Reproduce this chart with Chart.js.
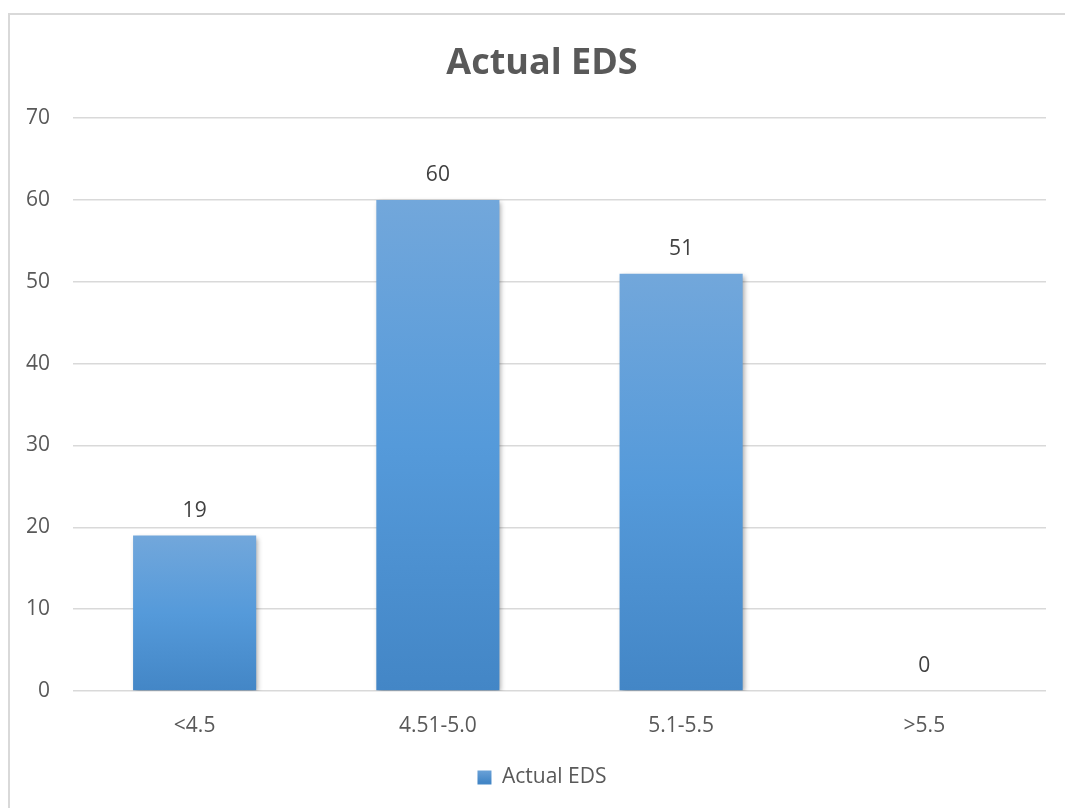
<!DOCTYPE html>
<html>
<head>
<meta charset="utf-8">
<title>Actual EDS</title>
<script src="https://cdn.jsdelivr.net/npm/chart.js@4/dist/chart.umd.min.js"></script>
<style>
  html, body { margin: 0; padding: 0; background: #ffffff; }
  body { width: 1065px; height: 808px; position: relative; overflow: hidden; }
  #frame {
    position: absolute; left: 8px; top: 13px; width: 1080px; height: 820px;
    border: 2px solid #d9d9d9; box-sizing: border-box;
  }
  #wrap { position: absolute; left: 0; top: 0; width: 1065px; height: 808px; }
</style>
</head>
<body>
<div id="frame"></div>
<div id="wrap"><canvas id="chart" width="1065" height="808"></canvas></div>
<script>
// EDS ranges and counts
const categories = ['<4.5', '4.51-5.0', '5.1-5.5', '>5.5'];
const seriesName = 'Actual EDS';
const counts = [19, 60, 51, 0];
const yTicks = [0, 10, 20, 30, 40, 50, 60, 70];

const FONT = "'Open Sans', 'Liberation Sans', sans-serif";
const TEXT = '#595959';
const SIZE = 21;

// vertical blue gradient for each bar, from its own top to its base
function barGradient(ctx) {
  const chart = ctx.chart;
  const y = chart.scales && chart.scales.y;
  if (!y || ctx.type !== 'data') return '#5b9bd5';
  const top = y.getPixelForValue(ctx.parsed ? ctx.parsed.y : 0);
  const base = y.getPixelForValue(0);
  if (!isFinite(top) || !isFinite(base) || Math.abs(base - top) < 1) return '#5b9bd5';
  const g = chart.ctx.createLinearGradient(0, top, 0, base);
  g.addColorStop(0, '#72a7db');
  g.addColorStop(0.5, '#559ada');
  g.addColorStop(1, '#4386c6');
  return g;
}

// let the value-axis labels use the margin left of the axis box
const axisMargin = {
  id: 'axisMargin',
  afterLayout(chart) {
    chart.scales.y.left = 0;
  }
};

// soft drop shadow behind the bars
const barShadow = {
  id: 'barShadow',
  beforeDatasetsDraw(chart) {
    const c = chart.ctx;
    c.save();
    c.shadowColor = 'rgba(0,0,0,0.35)';
    c.shadowBlur = 5;
    c.shadowOffsetX = 2;
    c.shadowOffsetY = 2;
  },
  afterDatasetsDraw(chart) {
    chart.ctx.restore();
  }
};

// value written above each bar
const valueLabels = {
  id: 'valueLabels',
  afterDatasetsDraw(chart) {
    const c = chart.ctx;
    const meta = chart.getDatasetMeta(0);
    const data = chart.data.datasets[0].data;
    c.save();
    c.font = SIZE + 'px ' + FONT;
    c.fillStyle = '#404040';
    c.textAlign = 'center';
    c.textBaseline = 'middle';
    meta.data.forEach((bar, i) => {
      c.fillText(String(data[i]), bar.x, bar.y - 25);
    });
    c.restore();
  }
};

new Chart(document.getElementById('chart'), {
  type: 'bar',
  data: {
    labels: categories,
    datasets: [{
      label: seriesName,
      data: counts,
      backgroundColor: barGradient,
      borderWidth: 0,
      categoryPercentage: 0.7,
      barPercentage: 0.723
    }]
  },
  options: {
    responsive: false,
    animation: false,
    devicePixelRatio: 1,
    layout: { padding: { left: 38, right: 19, top: 0, bottom: 10 } },
    plugins: {
      title: {
        display: true,
        text: 'Actual EDS',
        color: TEXT,
        font: { family: FONT, size: 36, weight: 'bold', lineHeight: 1.2 },
        padding: { top: 42, bottom: 33 }
      },
      legend: {
        display: true,
        position: 'bottom',
        labels: {
          color: TEXT,
          font: { family: FONT, size: SIZE },
          boxWidth: 14,
          boxHeight: 14,
          padding: 10,
          generateLabels(chart) {
            const c = chart.ctx;
            const g = c.createLinearGradient(0, 768, 0, 782);
            g.addColorStop(0, '#72a7db');
            g.addColorStop(1, '#4386c6');
            return [{
              text: seriesName,
              fillStyle: g,
              strokeStyle: 'rgba(0,0,0,0)',
              lineWidth: 0,
              fontColor: TEXT,
              datasetIndex: 0,
              hidden: false
            }];
          }
        }
      },
      tooltip: { enabled: false }
    },
    scales: {
      x: {
        grid: { display: false, drawTicks: false },
        border: { display: false },
        ticks: { color: TEXT, font: { family: FONT, size: SIZE }, padding: 22 },
        afterFit(scale) { scale.height = 66; }
      },
      y: {
        min: 0,
        max: 70,
        afterBuildTicks(scale) { scale.ticks = yTicks.map(v => ({ value: v })); },
        grid: { color: '#d9d9d9', lineWidth: 1.5, drawTicks: false },
        border: { display: false },
        ticks: { color: TEXT, font: { family: FONT, size: SIZE }, padding: 23 },
        afterFit(scale) { scale.width = 35; }
      }
    }
  },
  plugins: [axisMargin, barShadow, valueLabels]
});
</script>
</body>
</html>
